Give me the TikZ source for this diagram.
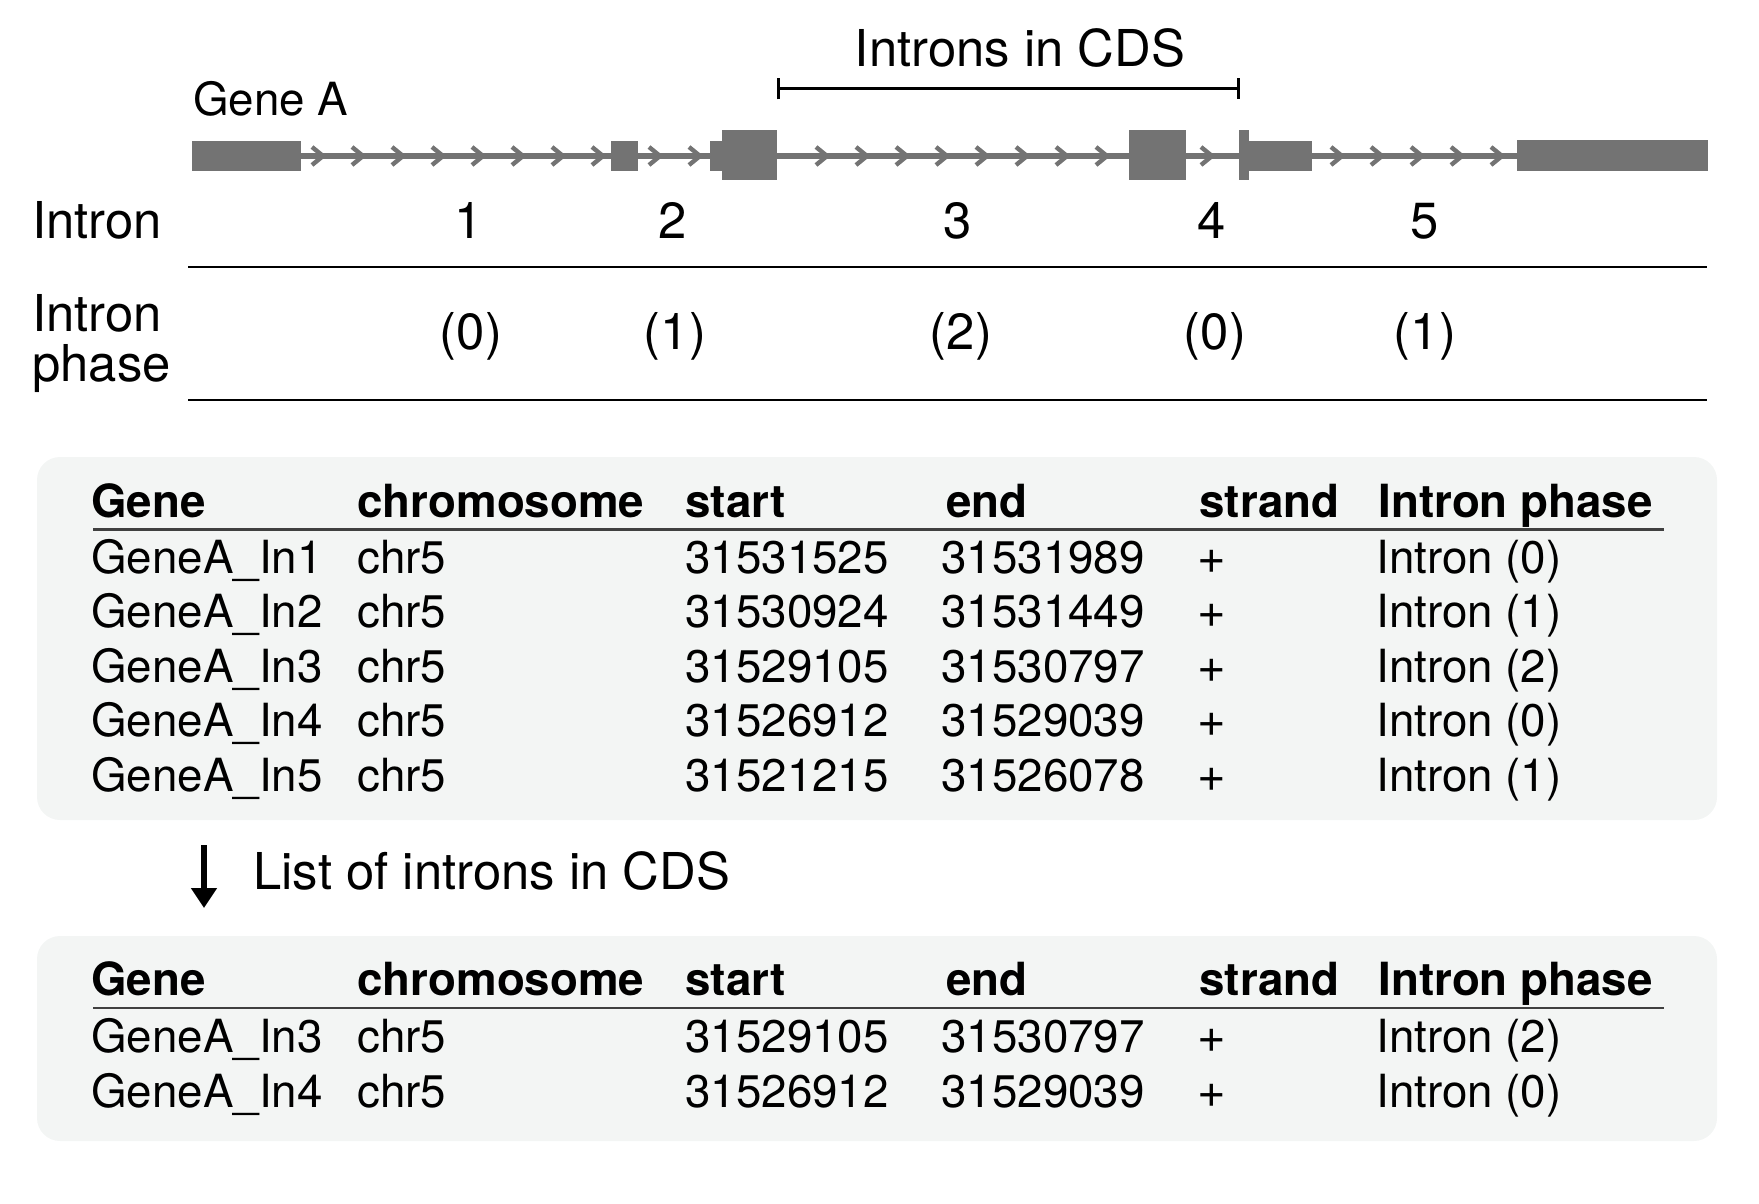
\documentclass[tikz,border=0pt]{standalone}
\usepackage{fontspec}
\setmainfont{TeX Gyre Heros}
\usetikzlibrary{arrows.meta}
\definecolor{genegray}{RGB}{115,115,115}
\definecolor{panelgray}{RGB}{243,245,244}
\newcommand{\bigfont}{\fontsize{25.4pt}{30pt}\selectfont}
\newcommand{\tabfont}{\fontsize{22.85pt}{27pt}\selectfont}
\begin{document}
\begin{tikzpicture}[x=0.5pt,y=-0.5pt,
  lbl/.style={inner sep=0pt, font=\bigfont},
  glbl/.style={inner sep=0pt, font=\tabfont},
  cell/.style={anchor=base west, inner sep=0pt, font=\tabfont},
  hcell/.style={anchor=base west, inner sep=0pt, font=\tabfont\bfseries},
  exon/.style={fill=genegray},
  chev/.style={draw=genegray, line width=2.2pt},
  sepline/.style={draw=black, line width=1.2pt},
  hrule/.style={draw=black!75, line width=1.3pt},
  panel/.style={fill=panelgray, rounded corners=11.5pt},
]
\useasboundingbox (0,0) rectangle (1759,1203);

% ---------- gene model ----------
\node[glbl, anchor=base west] (genea) at (193,116) {Gene A};
\node[lbl, anchor=base] (cdslbl) at (1020,67) {Introns in CDS};
\coordinate (brL) at (777,89);
\coordinate (brR) at (1240,89);
\draw[{Bar[width=10.5pt]}-{Bar[width=10.5pt]}, line width=1.5pt] (brL) -- (brR);

\coordinate (bbL) at (301,156);
\coordinate (bbR) at (1517,156);
\draw[genegray, line width=3pt] (bbL) -- (bbR);

\foreach \t in {323,363,...,603} \draw[chev] (\t-11,147) -- (\t,156) -- (\t-11,165);
\foreach \t in {660,700} \draw[chev] (\t-11,147) -- (\t,156) -- (\t-11,165);
\foreach \t in {827,867,...,1107} \draw[chev] (\t-11,147) -- (\t,156) -- (\t-11,165);
\foreach \t in {1212} \draw[chev] (\t-11,147) -- (\t,156) -- (\t-11,165);
\foreach \t in {1342,1382,...,1502} \draw[chev] (\t-11,147) -- (\t,156) -- (\t-11,165);

\fill[exon] (192,141) rectangle (301,171);
\fill[exon] (611,141) rectangle (638,171);
\fill[exon] (710,141) rectangle (722,171);
\fill[exon] (722,130) rectangle (777,180);
\fill[exon] (1129,130) rectangle (1186,180);
\fill[exon] (1239,130) rectangle (1249,180);
\fill[exon] (1249,141) rectangle (1312,171);
\fill[exon] (1517,140) rectangle (1708,171);

% ---------- intron numbers and phases ----------
\node[lbl, anchor=base west] (intronlbl) at (32,239) {Intron};
\node[lbl, anchor=base] (n1) at (469,239) {1};
\node[lbl, anchor=base] (n2) at (673,239) {2};
\node[lbl, anchor=base] (n3) at (958,239) {3};
\node[lbl, anchor=base] (n4) at (1212,239) {4};
\node[lbl, anchor=base] (n5) at (1425,239) {5};
\coordinate (l1L) at (188,267);
\coordinate (l1R) at (1707,267);
\draw[sepline] (l1L) -- (l1R);

\node[lbl, anchor=base west] (phlbla) at (32,332) {Intron};
\node[lbl, anchor=base west] (phlblb) at (32,381) {phase};
\node[lbl, anchor=base] (p1) at (471,350) {(0)};
\node[lbl, anchor=base] (p2) at (675,350) {(1)};
\node[lbl, anchor=base] (p3) at (961,350) {(2)};
\node[lbl, anchor=base] (p4) at (1215,350) {(0)};
\node[lbl, anchor=base] (p5) at (1425,350) {(1)};
\coordinate (l2L) at (188,400);
\coordinate (l2R) at (1707,400);
\draw[sepline] (l2L) -- (l2R);

% ---------- table 1 ----------
\fill[panel] (37,457) rectangle (1717,820);
\node[hcell] (h1a) at (91,517) {Gene};
\node[hcell] (h1b) at (357,517) {chromosome};
\node[hcell] (h1c) at (685,517) {start};
\node[hcell] (h1d) at (946,517) {end};
\node[hcell] (h1e) at (1199,517) {strand};
\node[hcell] (h1f) at (1378,517) {Intron phase};
\coordinate (r1L) at (93,529.5);
\coordinate (r1R) at (1664,529.5);
\draw[hrule] (r1L) -- (r1R);
\foreach \n/\s/\e/\p [count=\i] in {1/31531525/31531989/0, 2/31530924/31531449/1, 3/31529105/31530797/2, 4/31526912/31529039/0, 5/31521215/31526078/1}{
  \pgfmathsetmacro{\yy}{573+(\i-1)*54.5}
  \node[cell] (ta\i a) at (91,\yy) {GeneA\_In\n};
  \node[cell] (ta\i b) at (357,\yy) {chr5};
  \node[cell] (ta\i c) at (685,\yy) {\s};
  \node[cell] (ta\i d) at (941,\yy) {\e};
  \node[cell] (ta\i e) at (1197,\yy) {\fontsize{24.5pt}{27pt}\selectfont +};
  \node[cell] (ta\i f) at (1376,\yy) {Intron (\p)};
}

% ---------- arrow ----------
\coordinate (arrS) at (204,845);
\coordinate (arrE) at (204,908);
\draw[-{Triangle[length=10pt,width=12.5pt]}, line width=3pt] (arrS) -- (arrE);
\node[lbl, anchor=base west] (listlbl) at (253,889) {List of introns in CDS};

% ---------- table 2 ----------
\fill[panel] (37,936) rectangle (1717,1141);
\node[hcell] (h2a) at (91,995) {Gene};
\node[hcell] (h2b) at (357,995) {chromosome};
\node[hcell] (h2c) at (685,995) {start};
\node[hcell] (h2d) at (946,995) {end};
\node[hcell] (h2e) at (1199,995) {strand};
\node[hcell] (h2f) at (1378,995) {Intron phase};
\coordinate (r2L) at (93,1008);
\coordinate (r2R) at (1664,1008);
\draw[hrule] (r2L) -- (r2R);
\foreach \n/\s/\e/\p [count=\i] in {3/31529105/31530797/2, 4/31526912/31529039/0}{
  \pgfmathsetmacro{\yy}{1052+(\i-1)*55}
  \node[cell] (tb\i a) at (91,\yy) {GeneA\_In\n};
  \node[cell] (tb\i b) at (357,\yy) {chr5};
  \node[cell] (tb\i c) at (685,\yy) {\s};
  \node[cell] (tb\i d) at (941,\yy) {\e};
  \node[cell] (tb\i e) at (1197,\yy) {\fontsize{24.5pt}{27pt}\selectfont +};
  \node[cell] (tb\i f) at (1376,\yy) {Intron (\p)};
}
\end{tikzpicture}
\end{document}
